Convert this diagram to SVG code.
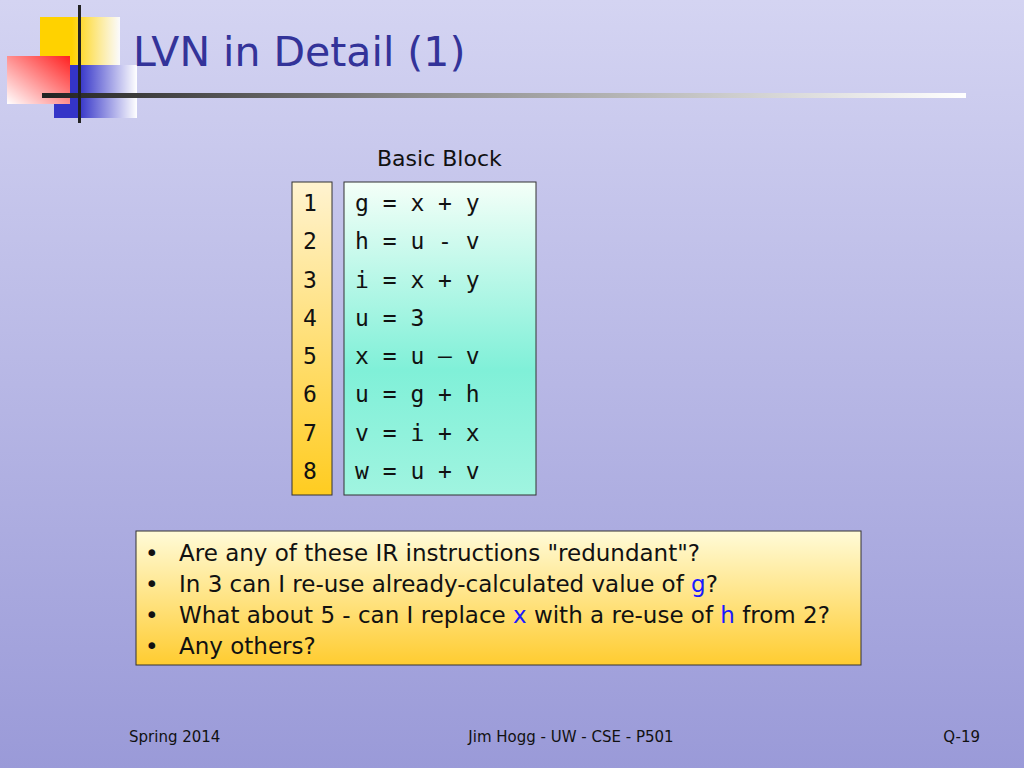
<svg xmlns="http://www.w3.org/2000/svg" width="1024" height="768" viewBox="0 0 1024 768">
<defs>
<linearGradient id="bg" x1="0" y1="0" x2="0" y2="1"><stop offset="0" stop-color="#d4d4f2"/><stop offset="1" stop-color="#9a9ad8"/></linearGradient>
<linearGradient id="yel" x1="0" y1="0" x2="1" y2="0"><stop offset="0.4" stop-color="#ffd200"/><stop offset="1" stop-color="#ffffff" stop-opacity="0.9"/></linearGradient>
<linearGradient id="blu" x1="0" y1="0" x2="1" y2="0"><stop offset="0.3" stop-color="#3434c8"/><stop offset="1" stop-color="#ffffff"/></linearGradient>
<linearGradient id="red" x1="1" y1="0" x2="0" y2="1"><stop offset="0" stop-color="#ff2020"/><stop offset="1" stop-color="#ffffff"/></linearGradient>
<linearGradient id="rule" x1="0" y1="0" x2="1" y2="0"><stop offset="0" stop-color="#222"/><stop offset="0.4" stop-color="#888"/><stop offset="1" stop-color="#ffffff"/></linearGradient>
<linearGradient id="num" x1="0" y1="0" x2="0" y2="1"><stop offset="0" stop-color="#fff3d0"/><stop offset="1" stop-color="#ffcc20"/></linearGradient>
<linearGradient id="code" x1="0" y1="0" x2="0" y2="1"><stop offset="0" stop-color="#f4fff8"/><stop offset="0.6" stop-color="#80f0d8"/><stop offset="1" stop-color="#a0f4e0"/></linearGradient>
<linearGradient id="note" x1="0" y1="0" x2="0" y2="1"><stop offset="0" stop-color="#fffbd8"/><stop offset="1" stop-color="#ffcc30"/></linearGradient>
<style>
.mono{font-family:"DejaVu Sans Mono","Liberation Mono",monospace;font-size:23px;fill:#111}
.sans{font-family:"DejaVu Sans","Noto Sans",sans-serif;fill:#111}
.box{stroke:#333;stroke-width:1}
</style>
</defs>
<rect width="1024" height="768" fill="url(#bg)"/>
<g id="logo">
<rect x="40" y="17" width="80" height="80" fill="url(#yel)"/>
<rect x="54" y="65" width="83" height="53" fill="url(#blu)"/>
<rect x="7" y="56" width="63" height="48" fill="url(#red)"/>
<rect x="42" y="93" width="924" height="5" fill="url(#rule)"/>
<rect x="78" y="5" width="3" height="118" fill="#222"/>
</g>
<text x="133" y="66" font-family="'DejaVu Sans',sans-serif" font-size="41" fill="#333399">LVN in Detail (1)</text>
<text x="377" y="166" class="sans" font-size="22">Basic Block</text>
<g id="numbers">
<rect x="292" y="182" width="40" height="313" fill="url(#num)" class="box"/>
<g class="mono" text-anchor="middle">
<text x="310" y="211">1</text><text x="310" y="249">2</text><text x="310" y="288">3</text><text x="310" y="326">4</text>
<text x="310" y="364">5</text><text x="310" y="402">6</text><text x="310" y="441">7</text><text x="310" y="479">8</text>
</g>
</g>
<g id="code-block">
<rect x="344" y="182" width="192" height="313" fill="url(#code)" class="box"/>
<g class="mono">
<text x="355" y="211" xml:space="preserve">g = x + y</text>
<text x="355" y="249" xml:space="preserve">h = u - v</text>
<text x="355" y="288" xml:space="preserve">i = x + y</text>
<text x="355" y="326" xml:space="preserve">u = 3</text>
<text x="355" y="364" xml:space="preserve">x = u – v</text>
<text x="355" y="402" xml:space="preserve">u = g + h</text>
<text x="355" y="441" xml:space="preserve">v = i + x</text>
<text x="355" y="479" xml:space="preserve">w = u + v</text>
</g>
</g>
<g id="notes">
<rect x="136" y="531" width="725" height="134" fill="url(#note)" class="box"/>
<g class="sans" font-size="23" font-family="'Open Sans','DejaVu Sans',sans-serif">
<text x="145" y="561">•</text><text x="145" y="592">•</text><text x="145" y="623">•</text><text x="145" y="654">•</text>
<text x="179" y="561">Are any of these IR instructions "redundant"?</text>
<text x="179" y="592">In 3 can I re-use already-calculated value of <tspan fill="#1a1aff">g</tspan>?</text>
<text x="179" y="623">What about 5 - can I replace <tspan fill="#1a1aff">x</tspan> with a re-use of <tspan fill="#1a1aff">h</tspan> from 2?</text>
<text x="179" y="654">Any others?</text>
</g>
</g>
<g class="sans" font-size="15" fill="#222">
<text x="129" y="742">Spring 2014</text>
<text x="571" y="742" text-anchor="middle">Jim Hogg - UW - CSE - P501</text>
<text x="980" y="742" text-anchor="end">Q-19</text>
</g>
</svg>
